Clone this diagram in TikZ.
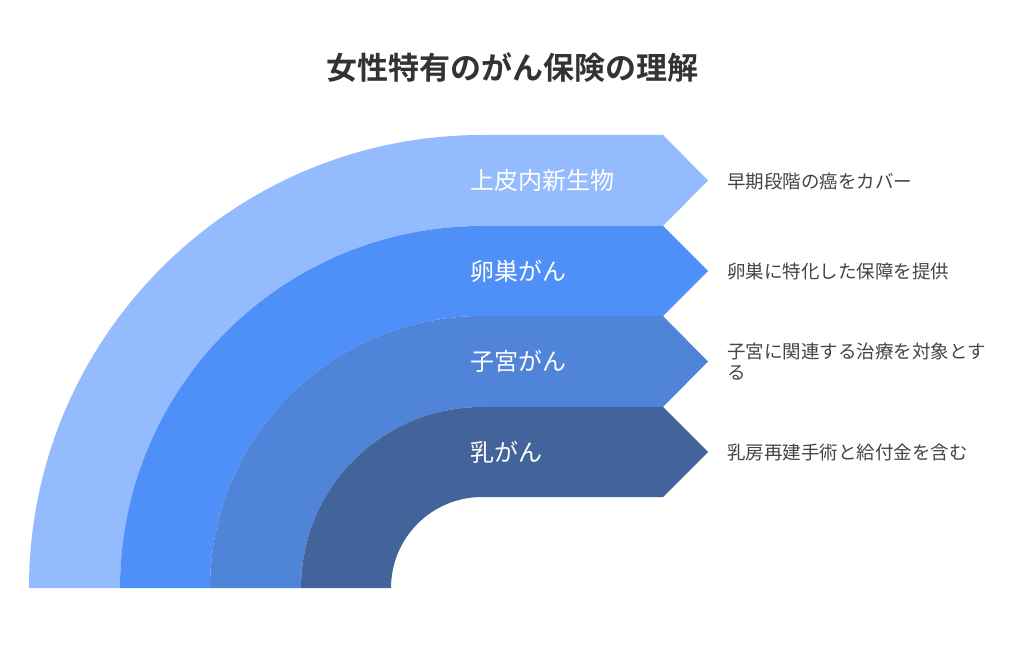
\documentclass[tikz,border=0pt]{standalone}
\usepackage{fontspec}
\setmainfont{Noto Sans CJK JP}
\newfontfamily\cjkbold{Noto Sans CJK JP Bold}
\usetikzlibrary{positioning}
\definecolor{bandA}{HTML}{94BBFD}
\definecolor{bandB}{HTML}{4F8FF8}
\definecolor{bandC}{HTML}{4F84D8}
\definecolor{bandD}{HTML}{42649A}
\definecolor{txtgray}{HTML}{444444}
\definecolor{titlegray}{HTML}{333333}
\begin{document}
\begin{tikzpicture}[x=1pt,y=1pt,
	label/.style={anchor=west,inner sep=0pt,text=white,font=\fontsize{24}{28}\selectfont},
	note/.style={anchor=west,inner sep=0pt,text=txtgray,align=left,font=\fontsize{18.5}{21}\selectfont},]
		\useasboundingbox (0,0) rectangle (1024,648);
		% title
		\node (title) [inner sep=0pt,text=titlegray,font=\cjkbold\fontsize{31}{36}\selectfont] at (512,580) {女性特有のがん保険の理解};
		
		% the bands
		\fill[bandA] (29,60) arc[start angle=180,end angle=90,radius=453] -- (663,513) -- (708,467.5) -- (663,422) -- (482,422) arc[start angle=90,end angle=180,radius=362] -- cycle;
		\fill[bandB] (120,60) arc[start angle=180,end angle=90,radius=362] -- (663,422) -- (708,377) -- (663,332) -- (482,332) arc[start angle=90,end angle=180,radius=272] -- cycle;
		\fill[bandC] (210,60) arc[start angle=180,end angle=90,radius=272] -- (663,332) -- (708,286.5) -- (663,241) -- (482,241) arc[start angle=90,end angle=180,radius=181] -- cycle;
		\fill[bandD] (301,60) arc[start angle=180,end angle=90,radius=181] -- (663,241) -- (708,196) -- (663,151) -- (482,151) arc[start angle=90,end angle=180,radius=91] -- cycle;
		
		% labels on the bands
		\node (cis) [label] at (470,467.5) {上皮内新生物};
		\node (ovary) [label] at (470,377) {卵巣がん};
		\node (uterus) [label] at (470,286.5) {子宮がん};
		\node (breast) [label] at (470,196) {乳がん};
		
		% notes
		\node (cisnote) [note] at (727,466) {早期段階の癌をカバー};
		\node (ovarynote) [note] at (727,376) {卵巣に特化した保障を提供};
		\node (uterusnote) [note] at (727,286) {子宮に関連する治療を対象とす\\る};
		\node (breastnote) [note] at (727,195) {乳房再建手術と給付金を含む};
		
	\end{tikzpicture}
\end{document}
